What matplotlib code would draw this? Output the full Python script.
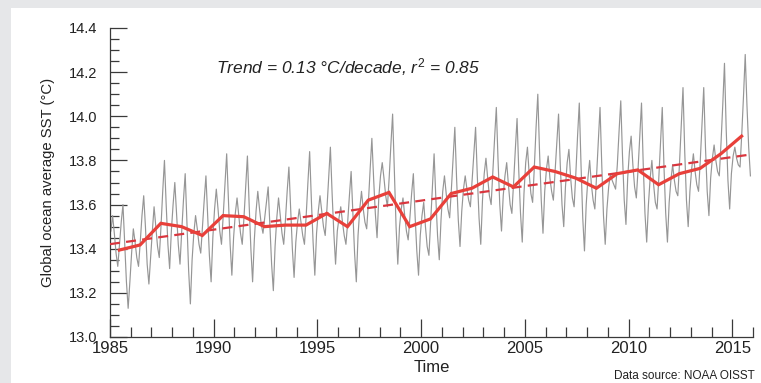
import numpy as np
import matplotlib
matplotlib.use("Agg")
import matplotlib.pyplot as plt
from matplotlib.ticker import MultipleLocator
from matplotlib.patches import Rectangle

plt.rcParams['font.family'] = ['Liberation Sans', 'DejaVu Sans']
plt.rcParams['mathtext.fontset'] = 'custom'
plt.rcParams['mathtext.it'] = 'Liberation Sans:italic'
plt.rcParams['mathtext.rm'] = 'Liberation Sans'

# ---------------- data ----------------
years = list(range(1985, 2016))

# monthly global ocean average SST (Jan..Dec), last year ends in Nov
sst_monthly = [
    [13.48, 13.55, 13.47, 13.38, 13.32, 13.42, 13.52, 13.60, 13.42, 13.25, 13.13, 13.25],  # 1985
    [13.38, 13.49, 13.43, 13.36, 13.32, 13.43, 13.55, 13.64, 13.50, 13.33, 13.24, 13.36],  # 1986
    [13.48, 13.59, 13.50, 13.41, 13.36, 13.50, 13.66, 13.80, 13.60, 13.42, 13.31, 13.48],  # 1987
    [13.60, 13.70, 13.56, 13.42, 13.33, 13.48, 13.62, 13.74, 13.52, 13.30, 13.15, 13.35],  # 1988
    [13.47, 13.55, 13.49, 13.42, 13.38, 13.50, 13.62, 13.73, 13.55, 13.37, 13.25, 13.45],  # 1989
    [13.58, 13.67, 13.58, 13.48, 13.42, 13.55, 13.69, 13.83, 13.62, 13.42, 13.28, 13.45],  # 1990
    [13.56, 13.63, 13.55, 13.47, 13.42, 13.54, 13.68, 13.82, 13.60, 13.40, 13.25, 13.44],  # 1991
    [13.57, 13.66, 13.58, 13.51, 13.47, 13.54, 13.61, 13.68, 13.50, 13.33, 13.21, 13.41],  # 1992
    [13.54, 13.63, 13.55, 13.47, 13.42, 13.53, 13.66, 13.77, 13.58, 13.40, 13.27, 13.43],  # 1993
    [13.52, 13.58, 13.52, 13.46, 13.42, 13.55, 13.70, 13.84, 13.62, 13.43, 13.28, 13.47],  # 1994
    [13.57, 13.64, 13.57, 13.50, 13.46, 13.58, 13.72, 13.86, 13.65, 13.47, 13.33, 13.48],  # 1995
    [13.54, 13.59, 13.52, 13.46, 13.42, 13.52, 13.64, 13.75, 13.56, 13.38, 13.25, 13.46],  # 1996
    [13.58, 13.66, 13.58, 13.52, 13.49, 13.61, 13.76, 13.90, 13.72, 13.56, 13.45, 13.63],  # 1997
    [13.73, 13.79, 13.72, 13.64, 13.59, 13.72, 13.87, 14.01, 13.75, 13.50, 13.33, 13.50],  # 1998
    [13.58, 13.63, 13.55, 13.48, 13.44, 13.54, 13.65, 13.74, 13.55, 13.39, 13.28, 13.46],  # 1999
    [13.55, 13.61, 13.50, 13.41, 13.37, 13.52, 13.68, 13.83, 13.63, 13.46, 13.35, 13.53],  # 2000
    [13.66, 13.73, 13.65, 13.58, 13.54, 13.67, 13.81, 13.95, 13.72, 13.53, 13.41, 13.57],  # 2001
    [13.67, 13.73, 13.67, 13.62, 13.59, 13.71, 13.83, 13.95, 13.73, 13.54, 13.42, 13.62],  # 2002
    [13.74, 13.81, 13.72, 13.64, 13.60, 13.75, 13.90, 14.04, 13.80, 13.60, 13.48, 13.64],  # 2003
    [13.73, 13.79, 13.69, 13.60, 13.56, 13.70, 13.85, 13.99, 13.75, 13.56, 13.43, 13.65],  # 2004
    [13.79, 13.86, 13.74, 13.65, 13.61, 13.77, 13.95, 14.10, 13.84, 13.62, 13.47, 13.66],  # 2005
    [13.76, 13.82, 13.72, 13.66, 13.62, 13.75, 13.88, 14.01, 13.78, 13.60, 13.50, 13.68],  # 2006
    [13.79, 13.85, 13.72, 13.63, 13.59, 13.74, 13.91, 14.06, 13.78, 13.54, 13.39, 13.60],  # 2007
    [13.72, 13.80, 13.69, 13.62, 13.58, 13.73, 13.89, 14.04, 13.78, 13.55, 13.42, 13.58],  # 2008
    [13.68, 13.74, 13.71, 13.69, 13.67, 13.78, 13.93, 14.07, 13.82, 13.62, 13.51, 13.72],  # 2009
    [13.84, 13.91, 13.78, 13.68, 13.63, 13.76, 13.91, 14.06, 13.78, 13.56, 13.43, 13.60],  # 2010
    [13.72, 13.80, 13.69, 13.61, 13.58, 13.72, 13.88, 14.04, 13.77, 13.56, 13.43, 13.61],  # 2011
    [13.71, 13.78, 13.71, 13.66, 13.64, 13.79, 13.96, 14.13, 13.84, 13.62, 13.50, 13.66],  # 2012
    [13.76, 13.83, 13.75, 13.69, 13.66, 13.80, 13.96, 14.13, 13.86, 13.66, 13.55, 13.72],  # 2013
    [13.81, 13.87, 13.80, 13.75, 13.73, 13.88, 14.05, 14.24, 13.94, 13.71, 13.58, 13.74],  # 2014
    [13.82, 13.86, 13.81, 13.78, 13.77, 13.92, 14.09, 14.28, 14.05, 13.86, 13.73],         # 2015
]

# annual means (red line)
annual_mean = [13.394, 13.417, 13.515, 13.500, 13.460, 13.550, 13.545, 13.500, 13.507, 13.507,
               13.560, 13.500, 13.620, 13.655, 13.500, 13.535, 13.650, 13.674, 13.725, 13.680,
               13.770, 13.750, 13.720, 13.674, 13.740, 13.757, 13.690, 13.740, 13.764, 13.830,
               13.910]

annotation = r'Trend = 0.13 °C/decade, $r^2$ = 0.85'
xticks_major = [1985, 1990, 1995, 2000, 2005, 2010, 2015]
yticks_major = [13.0, 13.2, 13.4, 13.6, 13.8, 14.0, 14.2, 14.4]

# ---------------- build series ----------------
mx, my = [], []
for yr, vals in zip(years, sst_monthly):
    for m, v in enumerate(vals):
        mx.append(yr + (m + 0.5) / 12.0)
        my.append(v)
mx = np.array(mx)
my = np.array(my)

ax_annual = np.array(years) + 0.45
coef = np.polyfit(ax_annual, annual_mean, 1)
tx = np.array([1985.0, mx[-1]])
ty = np.polyval(coef, tx)

# ---------------- figure ----------------
W, H = 761, 383
fig = plt.figure(figsize=(W / 100, H / 100), dpi=100, facecolor='#e6e7e9')
bg = fig.add_axes([11 / W, 0, 1 - 11 / W, 1 - 8 / H], zorder=-5)
bg.set_facecolor('white')
bg.set_axis_off()
bg.add_patch(Rectangle((0, 0), 1, 1, transform=bg.transAxes, facecolor='white', edgecolor='none'))

ax = fig.add_axes([110 / W, 1 - 337 / H, (753 - 110) / W, (337 - 28) / H], zorder=1)
ax.set_facecolor('none')

ax.plot(mx, my, color='#969696', lw=0.85, zorder=2)
ax.plot(tx, ty, color='#d9363e', lw=1.6, dashes=(4.5, 2.8), zorder=3)
ax.plot(ax_annual, annual_mean, color='#e8403a', lw=2.3, zorder=4, solid_joinstyle='miter')

ax.set_xlim(1985, 2016)
ax.set_ylim(13.0, 14.4)
ax.set_xticks(xticks_major)
ax.set_yticks(yticks_major)
ax.set_yticklabels([f'{v:.1f}' for v in yticks_major])
ax.xaxis.set_minor_locator(MultipleLocator(1))
ax.yaxis.set_minor_locator(MultipleLocator(0.05))

for s in ['top', 'right']:
    ax.spines[s].set_visible(False)
for s in ['left', 'bottom']:
    ax.spines[s].set_color('#3a3a3a')
    ax.spines[s].set_linewidth(0.9)

ax.tick_params(axis='x', which='major', direction='in', length=13, width=0.9, color='#3a3a3a',
               labelsize=12, pad=3, labelcolor='#222222')
ax.tick_params(axis='x', which='minor', direction='in', length=7, width=0.9, color='#3a3a3a')
ax.tick_params(axis='y', which='major', direction='in', length=12, width=0.9, color='#3a3a3a',
               labelsize=10.5, pad=9, labelcolor='#222222')
ax.tick_params(axis='y', which='minor', direction='in', length=6.5, width=0.9, color='#3a3a3a')

ax.set_xlabel('Time', fontsize=12, color='#222222', labelpad=3)
ax.set_ylabel('Global ocean average SST (°C)', fontsize=10.7, color='#222222', labelpad=10)

fig.text(348 / W, 1 - 67 / H, annotation, fontsize=12.5, style='italic', color='#222222',
         ha='center', va='center', zorder=10)
fig.text(755 / W, 1 - 376 / H, 'Data source: NOAA OISST', fontsize=8.5, color='#222222',
         ha='right', va='center', zorder=10)

fig.savefig('out.png', dpi=100, facecolor=fig.get_facecolor())
